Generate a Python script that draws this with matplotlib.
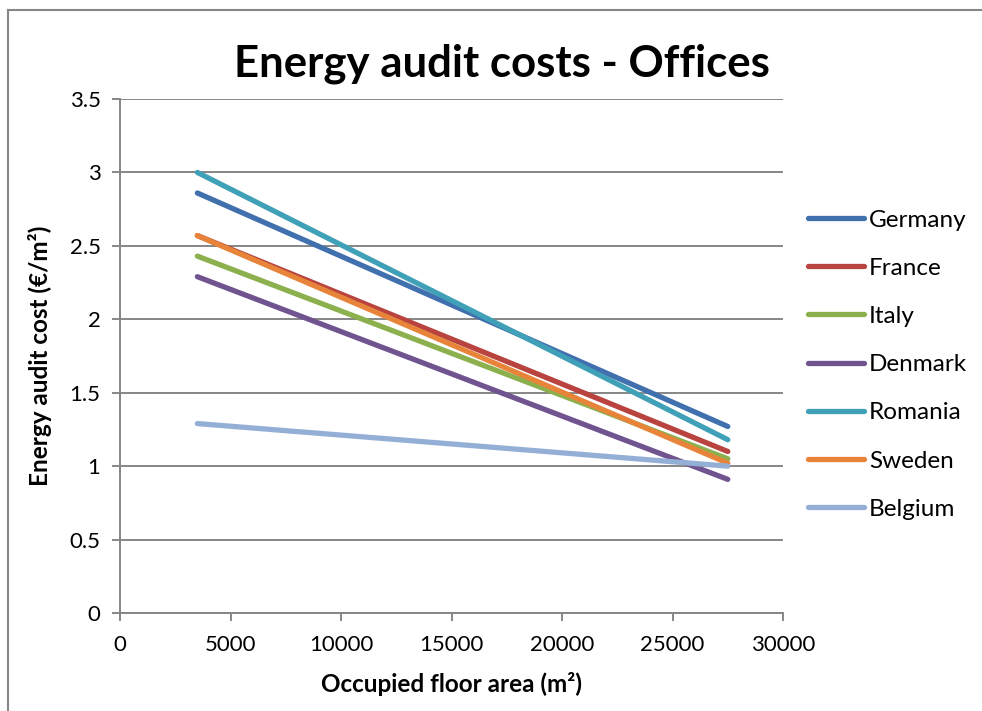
import matplotlib.pyplot as plt
from matplotlib.lines import Line2D

plt.rcParams['font.family'] = ['Lato', 'DejaVu Sans']

# floor area (m2) at the two ends of each line
area = [3500, 27500]

countries = ["Germany", "France", "Italy", "Denmark", "Romania", "Sweden", "Belgium"]
germany = [2.86, 1.27]
france = [2.57, 1.10]
italy = [2.43, 1.05]
denmark = [2.29, 0.91]
romania = [3.00, 1.18]
sweden = [2.57, 1.02]
belgium = [1.29, 1.00]

colors = ["#4170AE", "#B8433F", "#8CB04E", "#70548F", "#40A0B8", "#E8843A", "#94AFD6"]
series = [germany, france, italy, denmark, romania, sweden, belgium]

fig = plt.figure(figsize=(9.82, 7.11), dpi=100)
ax = fig.add_axes([0.1222, 0.1378, 0.6752, 0.7230])

for i in range(len(series)):
    ax.plot(area, series[i], color=colors[i], lw=3.8, solid_capstyle='round',
            label=countries[i])

ax.set_xlim(0, 30000)
ax.set_ylim(0, 3.5)
ax.set_xticks(range(0, 30001, 5000))
ax.set_yticks([0, 0.5, 1, 1.5, 2, 2.5, 3, 3.5])
ax.set_yticklabels(["0", "0.5", "1", "1.5", "2", "2.5", "3", "3.5"])
ax.grid(axis='y', color='#868686', lw=1.4)
ax.set_axisbelow(True)
for s in ['top', 'right']:
    ax.spines[s].set_visible(False)
for s in ['left', 'bottom']:
    ax.spines[s].set_color('#868686')
    ax.spines[s].set_linewidth(1.4)
ax.tick_params(colors='#868686', labelcolor='black', labelsize=16, length=6, width=1.4)
ax.tick_params(axis='x', pad=10)
ax.tick_params(axis='y', pad=8)

ax.set_xlabel("Occupied floor area (m²)", fontsize=17.5, fontweight='bold', labelpad=12)
ax.set_ylabel("Energy audit cost (€/m²)", fontsize=17.5, fontweight='bold', labelpad=13)
fig.text(0.511, 0.911, "Energy audit costs - Offices", ha='center', va='center',
         fontsize=31.5, fontweight='bold')

ax.legend(loc='upper left', bbox_to_anchor=(0.813, 0.719), bbox_transform=fig.transFigure,
          frameon=False, fontsize=17.5, handlelength=2.3, handletextpad=0.2,
          labelspacing=1.12, borderaxespad=0)

# chart frame: only the top and left edges are visible in the picture
fig.add_artist(Line2D([0.008, 1.0], [0.986, 0.986], transform=fig.transFigure,
                      color='#868686', lw=1.5))
fig.add_artist(Line2D([0.008, 0.008], [0.0, 0.986], transform=fig.transFigure,
                      color='#868686', lw=1.5))

fig.savefig("out.png", dpi=100)
